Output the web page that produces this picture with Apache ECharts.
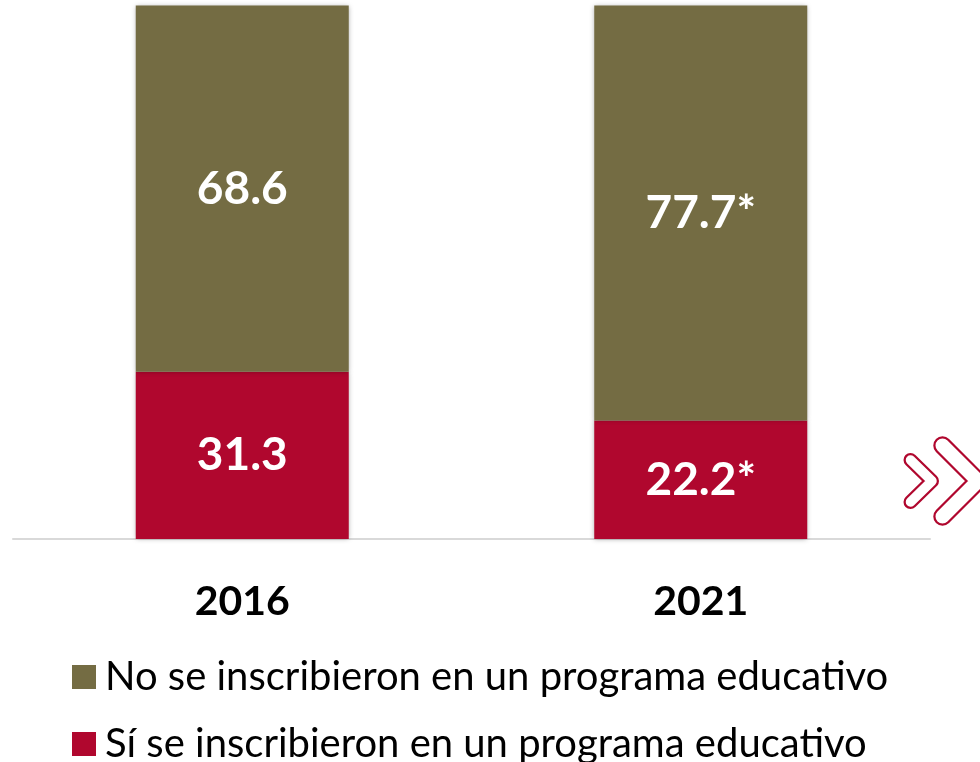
<!DOCTYPE html>
<html>
<head>
<meta charset="utf-8">
<script src="https://cdn.jsdelivr.net/npm/echarts@6/dist/echarts.min.js"></script>
<style>
  html, body { margin: 0; padding: 0; background: #fff; }
</style>
</head>
<body>
<div id="chart" style="width:980px;height:762px;"></div>
<script type="text/javascript">
// datos
var years = ['2016', '2021'];
var noInscritos = [68.6, 77.7];
var siInscritos = [31.3, 22.2];
// marca de diferencia significativa
var marcas = ['', '*'];

var nombreNo = 'No se inscribieron en un programa educativo';
var nombreSi = 'Sí se inscribieron en un programa educativo';

var rojo = '#B0072E';
var olivo = '#746C43';
var fuente = 'Lato';

var myChart = echarts.init(document.getElementById('chart'));

function etiqueta(params) {
    return params.value.toFixed(1) + marcas[params.dataIndex];
}

// una leyenda por fila
function leyenda(nombre, top) {
    return {
        left: 72,
        top: top,
        padding: 0,
        itemWidth: 24,
        itemHeight: 24,
        icon: 'rect',
        data: [nombre],
        textStyle: {
            fontFamily: fuente,
            fontSize: 40,
            lineHeight: 40,
            color: '#000',
            padding: [0, 0, 0, 4]
        }
    };
}

var option = {
    backgroundColor: '#ffffff',
    animation: false,
    grid: {
        left: 13,
        right: 50,
        top: 5,
        bottom: 223
    },
    legend: [
        leyenda(nombreNo, 657),
        leyenda(nombreSi, 724)
    ],
    xAxis: {
        type: 'category',
        data: years,
        axisLine: { lineStyle: { color: '#d9d9d9', width: 2 } },
        axisTick: { show: false },
        axisLabel: {
            margin: 42,
            fontFamily: fuente,
            fontWeight: 'bold',
            fontSize: 41,
            color: '#000'
        }
    },
    yAxis: {
        type: 'value',
        min: 0,
        max: 100,
        show: false
    },
    series: [
        {
            name: nombreSi,
            type: 'bar',
            stack: 'total',
            barWidth: 213,
            data: siInscritos,
            itemStyle: {
                color: rojo,
                shadowBlur: 5,
                shadowColor: 'rgba(0,0,0,0.35)'
            },
            label: {
                show: true,
                position: 'inside',
                formatter: etiqueta,
                fontFamily: fuente,
                fontWeight: 'bold',
                fontSize: 46,
                color: '#fff'
            }
        },
        {
            name: nombreNo,
            type: 'bar',
            stack: 'total',
            barWidth: 213,
            data: noInscritos,
            itemStyle: {
                color: olivo,
                shadowBlur: 5,
                shadowColor: 'rgba(0,0,0,0.35)'
            },
            label: {
                show: true,
                position: 'inside',
                formatter: etiqueta,
                fontFamily: fuente,
                fontWeight: 'bold',
                fontSize: 46,
                color: '#fff'
            }
        }
    ],
    // flechas decorativas
    graphic: [
        {
            type: 'polyline',
            shape: { points: [[910.5, 460], [932, 481], [910.5, 502]] },
            style: { stroke: rojo, lineWidth: 14, fill: null, lineCap: 'round', lineJoin: 'round' }
        },
        {
            type: 'polyline',
            shape: { points: [[910.5, 460], [932, 481], [910.5, 502]] },
            style: { stroke: '#fff', lineWidth: 9.5, fill: null, lineCap: 'round', lineJoin: 'round' }
        },
        {
            type: 'polyline',
            shape: { points: [[942.5, 445.5], [978, 481], [942.5, 516.5]] },
            style: { stroke: rojo, lineWidth: 18.5, fill: null, lineCap: 'round', lineJoin: 'round' }
        },
        {
            type: 'polyline',
            shape: { points: [[942.5, 445.5], [978, 481], [942.5, 516.5]] },
            style: { stroke: '#fff', lineWidth: 14, fill: null, lineCap: 'round', lineJoin: 'round' }
        }
    ]
};
myChart.setOption(option);
</script>
</body>
</html>
